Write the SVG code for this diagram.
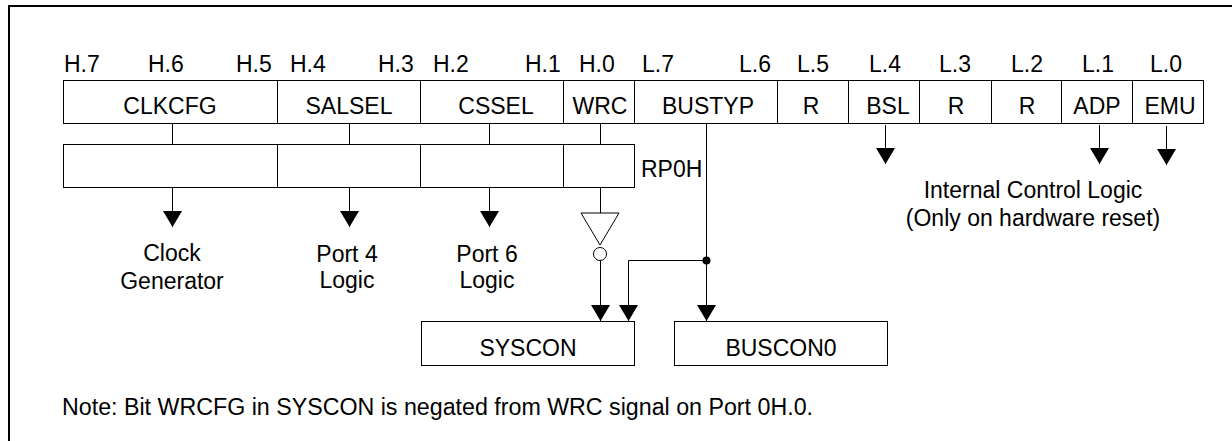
<svg xmlns="http://www.w3.org/2000/svg" width="1232" height="441" viewBox="0 0 1232 441">
<defs>
<style>
text{font-family:"Liberation Sans",Arial,sans-serif;font-size:23px;fill:#000}
.c{text-anchor:middle}
.box{fill:#fff;stroke:#000;stroke-width:1}
.ln{fill:none;stroke:#000;stroke-width:1}
.frame{fill:none;stroke:#000;stroke-width:2}
</style>
<marker id="ah" viewBox="0 0 16 19" refX="16" refY="9.5" markerWidth="16" markerHeight="19" markerUnits="userSpaceOnUse" orient="auto">
<path d="M0,0 L16,9.5 L0,19 z" fill="#000"/>
</marker>
</defs>
<g id="frame">
<path class="frame" d="M9,441 V6 H1232"/>
</g>
<g id="bit-labels">
<text x="64" y="72">H.7</text>
<text x="148" y="72">H.6</text>
<text x="236" y="72">H.5</text>
<text x="290" y="72">H.4</text>
<text x="378" y="72">H.3</text>
<text x="433" y="72">H.2</text>
<text x="525" y="72">H.1</text>
<text x="579" y="72">H.0</text>
<text x="642" y="72">L.7</text>
<text x="739" y="72">L.6</text>
<text x="797" y="72">L.5</text>
<text x="869" y="72">L.4</text>
<text x="939" y="72">L.3</text>
<text x="1011" y="72">L.2</text>
<text x="1082" y="72">L.1</text>
<text x="1150" y="72">L.0</text>
</g>
<g id="register">
<rect class="box" x="63.5" y="80.5" width="1140" height="43"/>
<path class="ln" d="M277.5,80.5V123.5M420.5,80.5V123.5M563.5,80.5V123.5M634.5,80.5V123.5M777.5,80.5V123.5M848.5,80.5V123.5M919.5,80.5V123.5M991.5,80.5V123.5M1061.5,80.5V123.5M1132.5,80.5V123.5"/>
<text class="c" x="170" y="114">CLKCFG</text>
<text class="c" x="349" y="114">SALSEL</text>
<text class="c" x="496" y="114">CSSEL</text>
<text class="c" x="600" y="114">WRC</text>
<text class="c" x="708" y="114">BUSTYP</text>
<text class="c" x="811" y="114">R</text>
<text class="c" x="888" y="114">BSL</text>
<text class="c" x="956" y="114">R</text>
<text class="c" x="1027" y="114">R</text>
<text class="c" x="1097" y="114">ADP</text>
<text class="c" x="1170" y="114">EMU</text>
</g>
<g id="rp0h">
<rect class="box" x="63.5" y="144.5" width="571" height="43"/>
<path class="ln" d="M277.5,144.5V187.5M420.5,144.5V187.5M563.5,144.5V187.5"/>
<text x="641" y="177">RP0H</text>
</g>
<g id="clock-generator">
<text class="c" x="172" y="261">Clock</text>
<text class="c" x="172" y="289">Generator</text>
</g>
<g id="port4-logic">
<text class="c" x="347" y="262">Port 4</text>
<text class="c" x="347" y="288">Logic</text>
</g>
<g id="port6-logic">
<text class="c" x="487" y="262">Port 6</text>
<text class="c" x="487" y="288">Logic</text>
</g>
<g id="internal-control-logic">
<text class="c" x="1033" y="198">Internal Control Logic</text>
<text class="c" x="1033" y="226">(Only on hardware reset)</text>
</g>
<g id="inverter">
<polygon class="box" points="581,213 619,213 600,245"/>
<circle class="box" cx="600" cy="254" r="6.5"/>
</g>
<g id="syscon">
<rect class="box" x="421.5" y="321.5" width="213" height="44"/>
<text class="c" x="528" y="356">SYSCON</text>
</g>
<g id="buscon0">
<rect class="box" x="674.5" y="321.5" width="213" height="44"/>
<text class="c" x="781" y="356">BUSCON0</text>
</g>
<g id="connectors">
<path class="ln" d="M172.5,124V144M349.5,124V144M489.5,124V144M600.5,124V144"/>
<path class="ln" d="M172.5,188V227" marker-end="url(#ah)"/>
<path class="ln" d="M349.5,188V227" marker-end="url(#ah)"/>
<path class="ln" d="M489.5,188V227" marker-end="url(#ah)"/>
<path class="ln" d="M600.5,188V213"/>
<path class="ln" d="M600.5,260.5V321" marker-end="url(#ah)"/>
<path class="ln" d="M706.5,124V321" marker-end="url(#ah)"/>
<path class="ln" d="M706.5,260.5H628.5V321" marker-end="url(#ah)"/>
<circle cx="706.5" cy="260.5" r="4" fill="#000"/>
<path class="ln" d="M885.5,125V164" marker-end="url(#ah)"/>
<path class="ln" d="M1099.5,125V164" marker-end="url(#ah)"/>
<path class="ln" d="M1166.5,126V165" marker-end="url(#ah)"/>
</g>
<g id="note">
<text x="62" y="415" textLength="751" lengthAdjust="spacingAndGlyphs">Note: Bit WRCFG in SYSCON is negated from WRC signal on Port 0H.0.</text>
</g>
</svg>
